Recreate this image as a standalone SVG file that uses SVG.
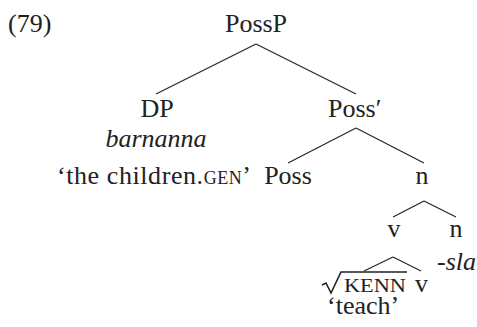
<svg xmlns="http://www.w3.org/2000/svg" width="477" height="327" viewBox="0 0 477 327">
<style>
text{font-size:26px;fill:#222}
.c{text-anchor:middle}
.i{font-style:italic}
.sc{font-size:18px}
.edge{stroke:#222;stroke-width:1.1;fill:none}
</style>
<rect width="477" height="327" fill="#fff"/>
<g font-family="'Liberation Serif', 'Times New Roman', Tinos, 'DejaVu Serif', serif">
<text x="8" y="32">(79)</text>
<g id="connectors">
<line class="edge" x1="256" y1="44" x2="156" y2="94"/>
<line class="edge" x1="256" y1="44" x2="356" y2="94"/>
<line class="edge" x1="356" y1="128" x2="288" y2="163"/>
<line class="edge" x1="356" y1="128" x2="424" y2="163"/>
<line class="edge" x1="424" y1="201" x2="393" y2="217"/>
<line class="edge" x1="424" y1="201" x2="456" y2="217"/>
<line class="edge" x1="393" y1="257" x2="364" y2="271"/>
<line class="edge" x1="393" y1="257" x2="421" y2="271"/>
</g>
<g id="PossP"><text class="c" x="256" y="32">PossP</text></g>
<g id="DP">
<text class="c" x="157" y="117">DP</text>
<text class="c i" x="156" y="147">barnanna</text>
<text x="57" y="184" textLength="194" lengthAdjust="spacing">‘the children.<tspan class="sc">GEN</tspan>’</text>
</g>
<g id="PossBar"><text x="328" y="117">Poss′</text></g>
<g id="Poss"><text class="c" x="288" y="184">Poss</text></g>
<g id="n1"><text class="c" x="422" y="184">n</text></g>
<g id="v1"><text class="c" x="394" y="237">v</text></g>
<g id="n2">
<text class="c" x="456" y="237">n</text>
<text class="i" x="437" y="270">-sla</text>
</g>
<g id="root">
<path d="M322,285 L326,283 L331,293 L341,272 L407,272" stroke="#222" stroke-width="1.6" fill="none"/>
<text class="sc" x="344" y="292" textLength="62" lengthAdjust="spacingAndGlyphs">KENN</text>
<text x="327" y="314">‘teach’</text>
</g>
<g id="v2"><text x="415" y="292">v</text></g>
</g>
</svg>
